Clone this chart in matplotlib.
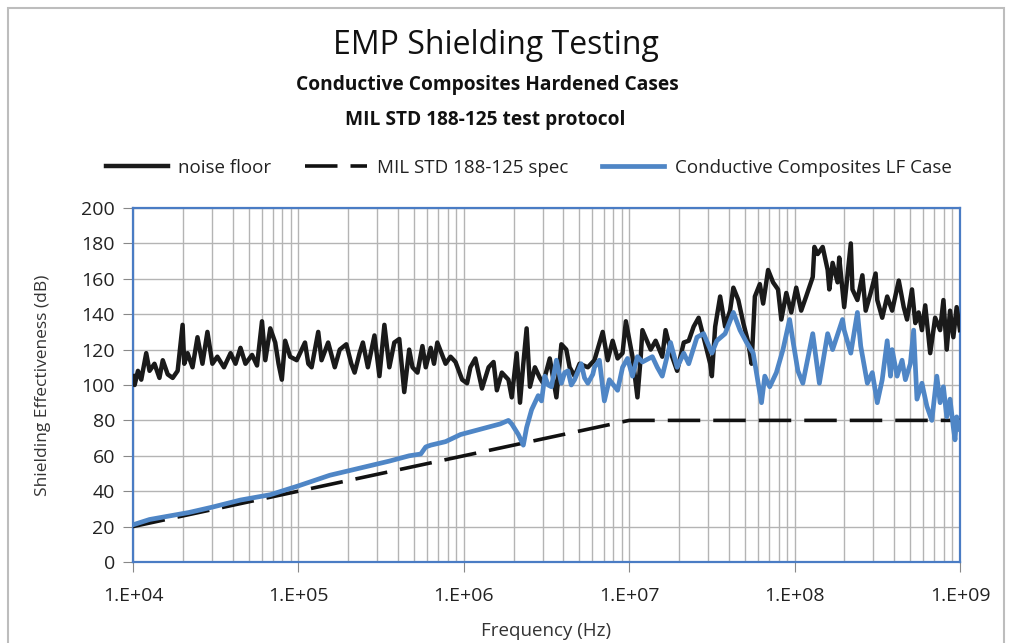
import numpy as np
import matplotlib
matplotlib.use("Agg")
import matplotlib.pyplot as plt
from matplotlib.patches import Rectangle
from matplotlib.ticker import FixedLocator, LogLocator, NullFormatter

# ---------------- data (log10 of frequency in Hz, dB) ----------------
noise_logf = [4.00, 4.01, 4.03, 4.05, 4.08, 4.10, 4.13, 4.16, 4.18, 4.21, 4.24, 4.27, 4.30, 4.31,
              4.33, 4.36, 4.39, 4.42, 4.45, 4.48, 4.51, 4.55, 4.59, 4.62, 4.65, 4.68, 4.72, 4.75,
              4.78, 4.80, 4.83, 4.86, 4.88, 4.90, 4.92, 4.95, 4.99,
              5.04, 5.06, 5.08, 5.12, 5.14, 5.18, 5.22, 5.25, 5.29, 5.32, 5.34, 5.37, 5.39, 5.42,
              5.46, 5.49, 5.52, 5.55, 5.58, 5.61, 5.64, 5.67, 5.69, 5.72, 5.75, 5.77, 5.80, 5.82,
              5.84, 5.89, 5.92, 5.95, 5.99,
              6.02, 6.04, 6.07, 6.11, 6.15, 6.18, 6.20, 6.23, 6.27, 6.29, 6.32, 6.34, 6.36, 6.38,
              6.40, 6.43, 6.46, 6.48, 6.52, 6.56, 6.59, 6.62, 6.64, 6.67, 6.70, 6.75, 6.79, 6.84,
              6.87, 6.90, 6.93, 6.96, 6.98,
              7.02, 7.05, 7.07, 7.08, 7.13, 7.16, 7.20, 7.22, 7.26, 7.29, 7.33, 7.36, 7.39, 7.42,
              7.45, 7.49, 7.50, 7.52, 7.55, 7.58, 7.61, 7.63, 7.66, 7.69, 7.72, 7.74, 7.76, 7.79,
              7.81, 7.84, 7.87, 7.90, 7.92, 7.95, 7.98,
              8.01, 8.04, 8.07, 8.11, 8.12, 8.14, 8.17, 8.20, 8.21, 8.23, 8.26, 8.27, 8.30, 8.34,
              8.35, 8.38, 8.41, 8.43, 8.46, 8.49, 8.50, 8.53, 8.56, 8.59, 8.63, 8.66, 8.68, 8.71,
              8.73, 8.75, 8.77, 8.79, 8.82, 8.85, 8.88, 8.90, 8.92, 8.94, 8.96, 8.98, 9.00]
noise_db = [105, 100, 108, 103, 118, 108, 112, 104, 114, 106, 104, 108, 134, 112,
            118, 110, 127, 112, 130, 112, 116, 110, 118, 112, 121, 112, 117, 111,
            136, 114, 132, 124, 112, 103, 125, 116, 114,
            124, 112, 110, 130, 114, 124, 110, 120, 123, 112, 107, 118, 124, 110,
            128, 105, 134, 110, 124, 126, 96, 120, 110, 107, 122, 110, 121, 112,
            124, 112, 116, 113, 103,
            101, 110, 115, 98, 110, 113, 97, 107, 103, 93, 118, 90, 112, 132,
            99, 110, 104, 101, 115, 93, 123, 120, 110, 105, 112, 110, 114, 130,
            114, 125, 115, 118, 136,
            116, 93, 116, 131, 120, 125, 116, 131, 116, 108, 124, 125, 133, 138,
            127, 112, 105, 133, 150, 133, 142, 155, 148, 135, 124, 112, 150, 157,
            146, 165, 158, 154, 137, 152, 141,
            155, 142, 150, 161, 178, 174, 178, 165, 154, 169, 158, 172, 144, 180,
            154, 148, 162, 142, 152, 163, 148, 138, 150, 142, 159, 144, 137, 154,
            135, 141, 131, 145, 118, 138, 131, 148, 120, 142, 127, 144, 131]

spec_freq = [1e4, 1e7, 1e9]
spec_db = [20, 80, 80]

case_logf = [4.00, 4.10, 4.22, 4.34, 4.48, 4.65, 4.83, 5.00, 5.19, 5.37, 5.55, 5.67, 5.74, 5.77,
             5.80, 5.89, 5.98, 6.10, 6.22, 6.27, 6.29, 6.33, 6.36, 6.38, 6.41, 6.43, 6.45, 6.47,
             6.49, 6.51, 6.53, 6.56, 6.59, 6.61, 6.63, 6.65, 6.67, 6.71, 6.73, 6.75, 6.78, 6.79,
             6.82, 6.85, 6.88, 6.93, 6.96, 6.99,
             7.02, 7.05, 7.08, 7.14, 7.17, 7.20, 7.25, 7.29, 7.33, 7.36, 7.41, 7.45, 7.50, 7.53,
             7.58, 7.63, 7.67, 7.71, 7.75, 7.78, 7.80, 7.82, 7.85, 7.89, 7.93, 7.97, 7.99,
             8.02, 8.05, 8.11, 8.15, 8.20, 8.23, 8.29, 8.30, 8.34, 8.38, 8.40, 8.44, 8.47, 8.50,
             8.53, 8.56, 8.58, 8.59, 8.62, 8.65, 8.67, 8.70, 8.72, 8.74, 8.77, 8.80, 8.83, 8.86,
             8.88, 8.90, 8.92, 8.94, 8.96, 8.97, 8.98, 9.00]
case_db = [21, 24, 26, 28, 31, 35, 38, 43, 49, 53, 57, 60, 61, 65,
           66, 68, 72, 75, 78, 80, 78, 72, 66, 76, 86, 90, 94, 91,
           105, 100, 99, 114, 101, 107, 108, 100, 103, 112, 104, 101, 106, 110,
           114, 91, 103, 97, 110, 115,
           105, 116, 113, 116, 110, 105, 124, 110, 118, 112, 127, 129, 118, 125,
           129, 141, 131, 124, 118, 101, 90, 105, 99, 107, 120, 137, 125,
           108, 101, 129, 101, 129, 120, 137, 131, 118, 141, 122, 101, 107, 90,
           103, 125, 105, 120, 105, 114, 103, 112, 131, 92, 101, 88, 80, 105,
           90, 99, 82, 92, 76, 69, 82, 75]

x_tick_labels = ["1.E+04", "1.E+05", "1.E+06", "1.E+07", "1.E+08", "1.E+09"]
y_ticks = [0, 20, 40, 60, 80, 100, 120, 140, 160, 180, 200]

title = "EMP Shielding Testing"
subtitle1 = "Conductive Composites Hardened Cases"
subtitle2 = "MIL STD 188-125 test protocol"

# ---------------- style ----------------
FONT = ["Open Sans", "DejaVu Sans"]
plt.rcParams["font.family"] = FONT
BLUE = "#4f86c6"
FRAME_BLUE = "#4a7cc4"
GRID = "#b4b4b4"

fig = plt.figure(figsize=(10.09, 6.43), dpi=100)
fig.patch.set_facecolor("white")
ax = fig.add_axes([0.1318, 0.1260, 0.8196, 0.5505])

noise_f = 10 ** np.array(noise_logf)
case_f = 10 ** np.array(case_logf)

l1, = ax.plot(noise_f, noise_db, color="#1a1a1a", lw=3.2, solid_joinstyle="round", zorder=3,
              label="noise floor")
l2, = ax.plot(spec_freq, spec_db, color="#111111", lw=2.6, dashes=(9, 3.6), zorder=4,
              label="MIL STD 188-125 spec")
l3, = ax.plot(case_f, case_db, color=BLUE, lw=3.4, solid_joinstyle="round", zorder=5,
              label="Conductive Composites LF Case")

ax.set_xscale("log")
ax.set_xlim(1e4, 1e9)
ax.set_ylim(0, 200)
ax.xaxis.set_major_locator(FixedLocator([1e4, 1e5, 1e6, 1e7, 1e8, 1e9]))
ax.set_xticklabels(x_tick_labels)
ax.xaxis.set_minor_locator(LogLocator(base=10, subs=np.arange(2, 10)))
ax.xaxis.set_minor_formatter(NullFormatter())
ax.set_yticks(y_ticks)
ax.grid(which="major", color=GRID, lw=1.0, zorder=0)
ax.grid(which="minor", axis="x", color=GRID, lw=1.0, zorder=0)
ax.set_axisbelow(True)
for s in ax.spines.values():
    s.set_color(FRAME_BLUE)
    s.set_linewidth(1.6)
ax.tick_params(axis="both", which="major", direction="out", length=7, color="#888888",
               labelsize=14, pad=6, labelcolor="#222222")
ax.tick_params(axis="x", which="minor", length=0)
ax.tick_params(axis="x", which="major", pad=11)

ax.set_xlabel("Frequency (Hz)", fontsize=13.5, color="#333333", labelpad=12)
ax.set_ylabel("Shielding Effectiveness (dB)", fontsize=12.5, color="#333333", labelpad=22)

fig.text(0.492, 0.930, title, ha="center", va="center", fontsize=23, color="#111111")
fig.text(0.483, 0.868, subtitle1, ha="center", va="center", fontsize=13.8, fontweight="bold",
         color="#111111")
fig.text(0.481, 0.813, subtitle2, ha="center", va="center", fontsize=13.8, fontweight="bold",
         color="#111111")

fig.legend(handles=[l1, l2, l3], loc="center", bbox_to_anchor=(0.524, 0.739), ncol=3,
           frameon=False, fontsize=13.5, handlelength=3.3, columnspacing=1.8, handletextpad=0.55,
           labelcolor="#222222")

# outer chart frame
fig.patches.append(Rectangle((8 / 1009, -0.01), 996 / 1009, 1 - 8 / 643 + 0.01,
                             transform=fig.transFigure, fill=False, edgecolor="#bdbdbd",
                             lw=1.5))

fig.savefig("out.png", dpi=100, facecolor="white")
